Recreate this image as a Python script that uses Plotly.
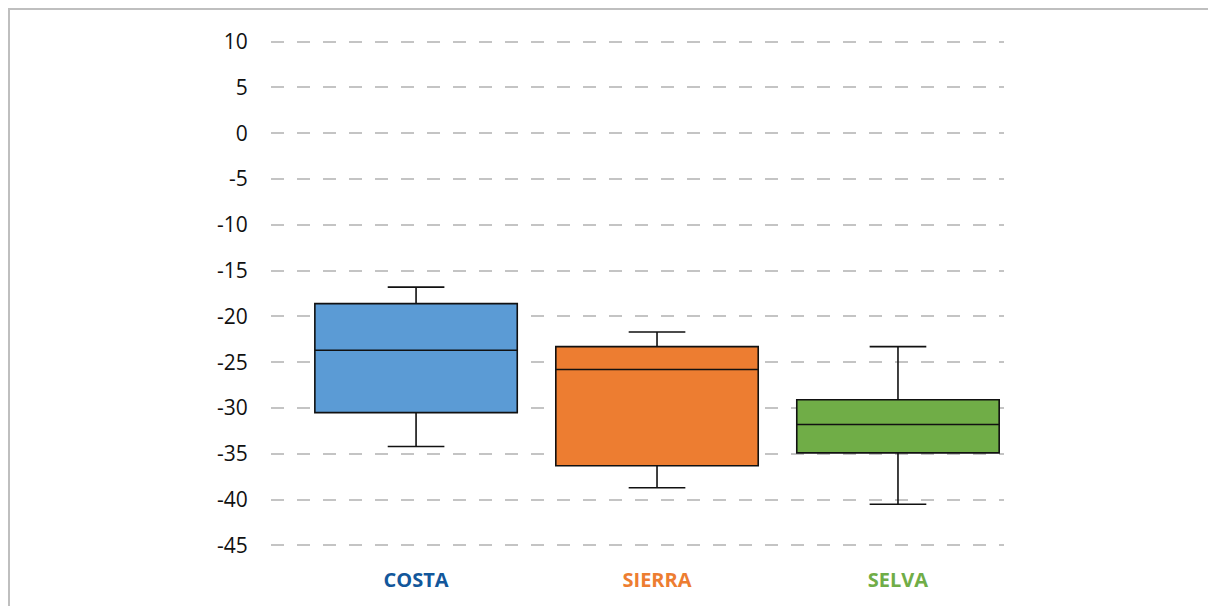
import plotly.graph_objects as go

categories = ["COSTA", "SIERRA", "SELVA"]
box_colors = ["#5B9BD5", "#ED7D31", "#70AD47"]
label_colors = ["#12579B", "#ED7D31", "#70AD47"]
lower_whisker = [-34.2, -38.7, -40.5]
q1_values = [-30.5, -36.3, -34.9]
median_values = [-23.7, -25.8, -31.8]
q3_values = [-18.6, -23.3, -29.1]
upper_whisker = [-16.8, -21.7, -23.3]
y_ticks = [10, 5, 0, -5, -10, -15, -20, -25, -30, -35, -40, -45]
y_tick_labels = ["10", "5", "0", "-5", "-10", "-15", "-20", "-25", "-30", "-35", "-40", "-45"]

fig = go.Figure()
for i, cat in enumerate(categories):
    fig.add_trace(go.Box(
        x=[cat],
        lowerfence=[lower_whisker[i]],
        q1=[q1_values[i]],
        median=[median_values[i]],
        q3=[q3_values[i]],
        upperfence=[upper_whisker[i]],
        fillcolor=box_colors[i],
        line=dict(color="#111111", width=1.6),
        width=0.84,
        whiskerwidth=0.28,
        boxpoints=False,
        hoverinfo="skip",
        showlegend=False,
    ))

ticktext = [f"<b><span style='color:{c}'>{t}</span></b>" for t, c in zip(categories, label_colors)]

W, H = 1208, 598
L, R, T, B = 263, 212, 29, 56
pw, ph = W - L - R, H - T - B

fig.update_layout(
    width=W, height=H,
    margin=dict(l=L, r=R, t=T, b=B),
    paper_bgcolor="white", plot_bgcolor="white",
    font=dict(family="Open Sans", color="#111111"),
    xaxis=dict(
        type="category",
        categoryorder="array", categoryarray=categories,
        range=[-0.602, 2.44],
        tickmode="array", tickvals=categories, ticktext=ticktext,
        tickfont=dict(size=20),
        showgrid=False, zeroline=False, showline=False,
        ticks="outside", ticklen=12, tickcolor="rgba(0,0,0,0)",
    ),
    yaxis=dict(
        range=[-45.5, 10.5],
        tickmode="array", tickvals=y_ticks, ticktext=y_tick_labels,
        tickfont=dict(size=21, color="#111111"),
        showgrid=True, gridcolor="#C4C4C4", gridwidth=1.6, griddash="13px,13px",
        zeroline=False, showline=False,
        ticks="outside", ticklen=18, tickcolor="rgba(0,0,0,0)",
    ),
    shapes=[dict(type="rect", xref="paper", yref="paper",
                 x0=(1 - L) / pw, x1=(W - L - 1) / pw,
                 y0=-(B + 10) / ph, y1=1 + (T - 1) / ph,
                 line=dict(color="#BFBFBF", width=2), layer="below")],
)

fig.write_html("out.html")
